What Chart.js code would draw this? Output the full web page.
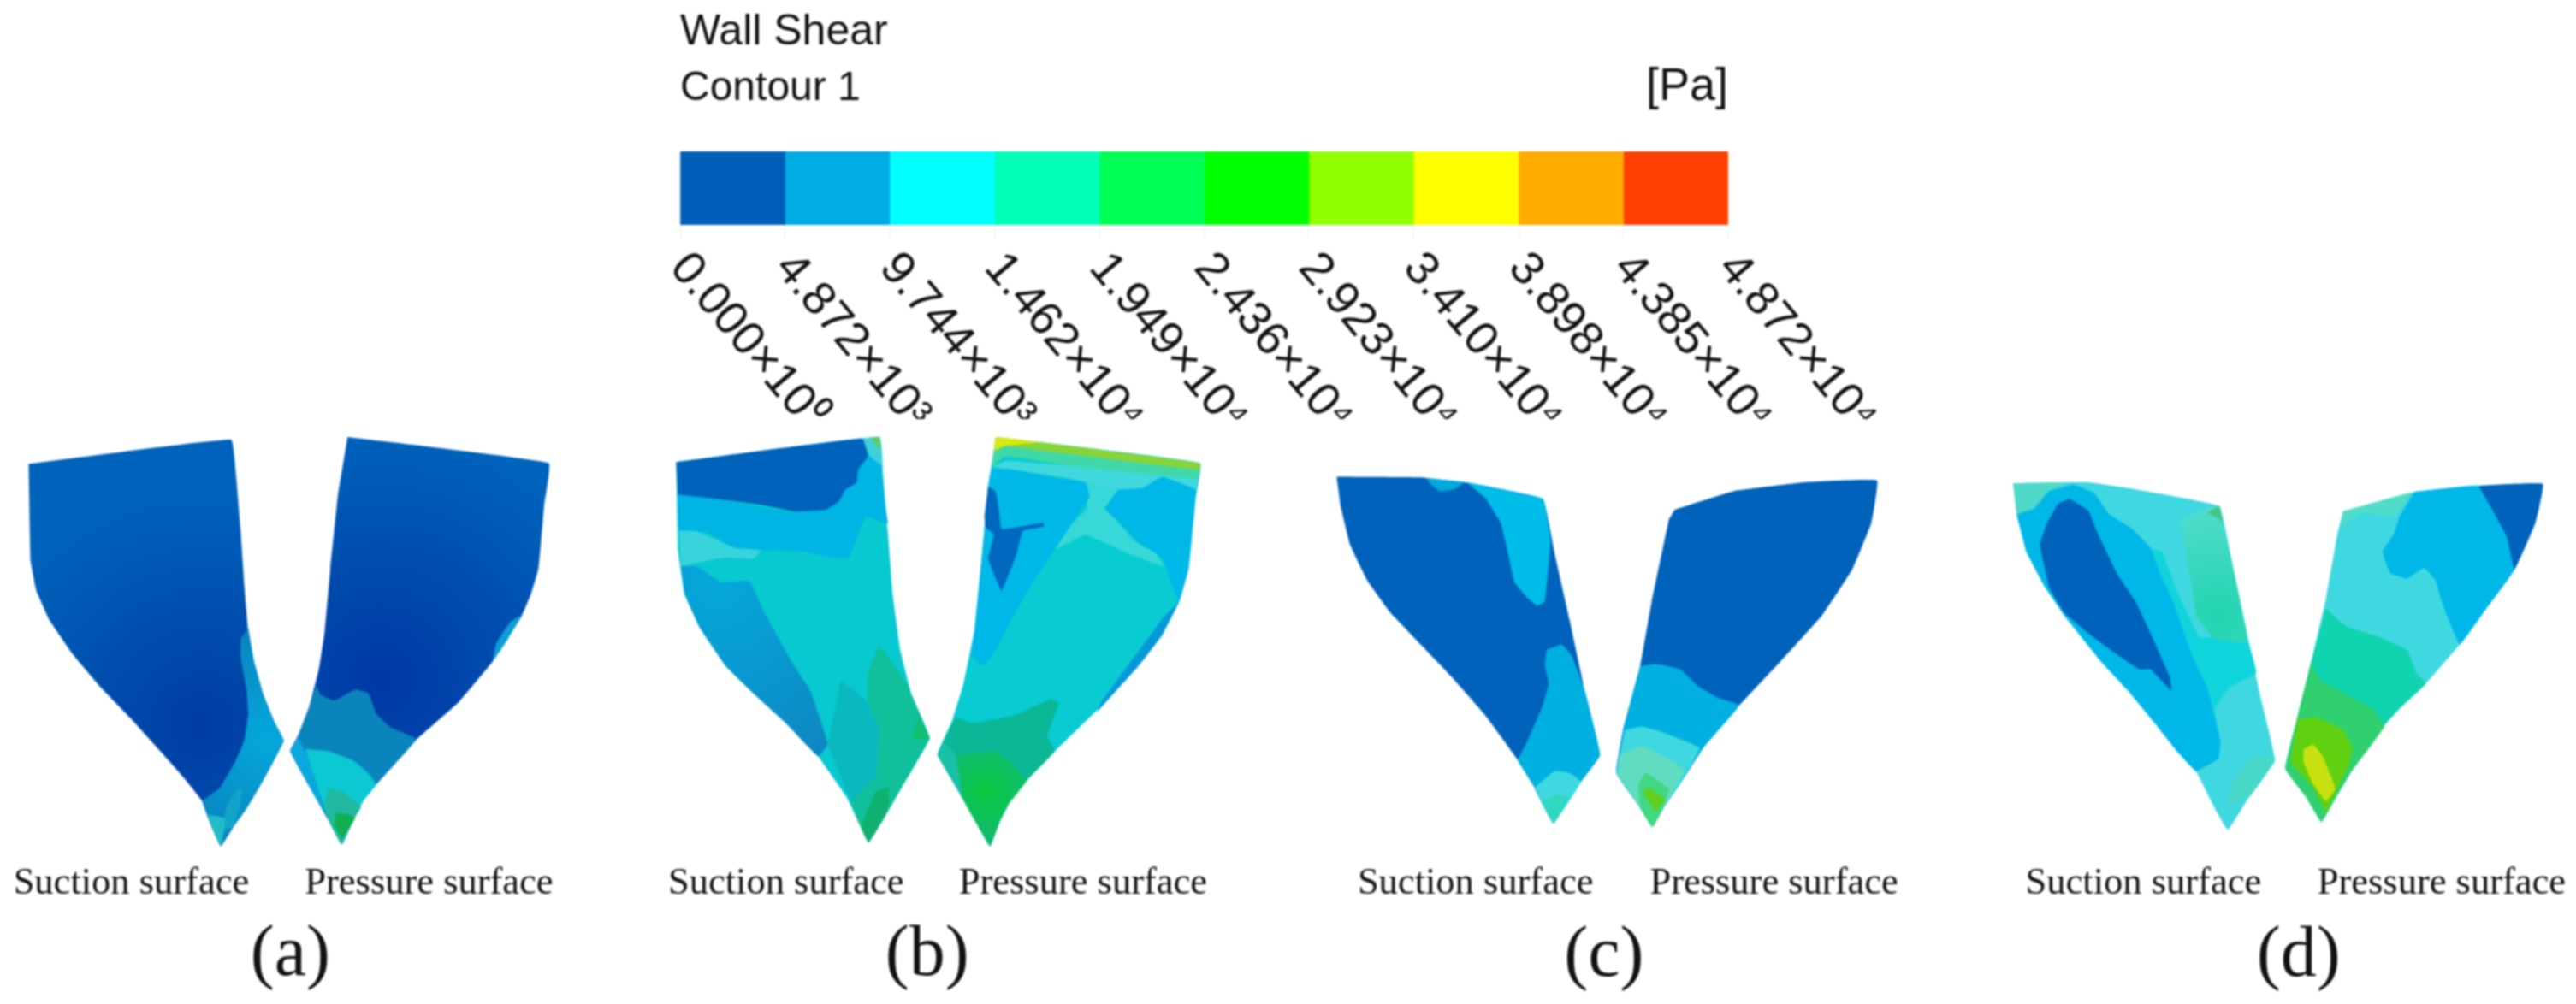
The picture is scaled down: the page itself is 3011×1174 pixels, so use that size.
<!DOCTYPE html>
<html>
<head>
<meta charset="utf-8">
<title>Wall shear contours</title>
<script src="https://cdn.jsdelivr.net/npm/chart.js@4/dist/chart.umd.min.js"></script>
<style>
  html, body { margin: 0; background: #fff; }
  #page { position: relative; width: 3011px; height: 1174px; overflow: hidden; }
  canvas { position: absolute; filter: blur(1px); }
</style>
</head>
<body>
<div id="page"></div>
<script>
// colour bar
const tickValues = [0, 4872, 9744, 14620, 19490, 24360, 29230, 34100, 38980, 43850, 48720];
const tickLabels = ['0.000×10⁰', '4.872×10³', '9.744×10³', '1.462×10⁴', '1.949×10⁴', '2.436×10⁴', '2.923×10⁴', '3.410×10⁴', '3.898×10⁴', '4.385×10⁴', '4.872×10⁴'];
const barColors = ['#005eb8', '#00ace4', '#00ffff', '#00ffb8', '#00ff55', '#00ff00', '#90ff00', '#ffff00', '#ffab00', '#ff4000'];

// contour outlines, [x, y] in each panel's own 0-1568 axes
// panel a
const aSuction = [[75,120],[605,55],[618,150],[630,300],[640,450],[650,570],[665,650],[690,740],[720,815],[743,862],[715,920],[680,985],[645,1045],[610,1095],[578,1145],[555,1095],[530,1025],[480,960],[415,885],[340,800],[260,715],[190,630],[130,540],[95,460],[80,380],[77,250]];
const aSuctionEdge = [[650,560],[630,590],[630,640],[645,720],[650,790],[640,860],[615,920],[575,990],[530,1025],[555,1095],[578,1145],[610,1095],[645,1045],[680,985],[715,920],[743,862],[720,815],[690,740],[665,650]];
const aSuctionBlob = [[635,990],[615,1000],[590,1050],[585,1100],[610,1095],[625,1050]];
const aSuctionTip = [[545,1060],[590,1070],[585,1115],[578,1145],[555,1095]];
const aPressure = [[910,48],[1437,118],[1425,230],[1410,400],[1390,470],[1365,530],[1290,650],[1200,760],[1090,860],[985,980],[950,1025],[925,1075],[895,1140],[860,1075],[810,985],[760,890],[780,850],[810,770],[835,670],[850,570],[865,400],[885,200]];
const aPressureSliver = [[1365,525],[1335,545],[1300,600],[1290,650],[1330,590]];
const aPressureLow = [[828,715],[840,740],[875,755],[930,725],[965,735],[985,790],[1020,825],[1090,858],[985,980],[950,1025],[925,1075],[895,1140],[860,1075],[810,985],[760,890],[780,850],[810,770]];
const aPressureLeft = [[780,855],[760,890],[810,985],[850,1055],[820,930]];
const aPressureTeal = [[800,885],[860,890],[925,915],[965,950],[985,980],[950,1025],[925,1075],[895,1140],[860,1075],[830,980]];
const aPressureMint = [[860,990],[900,1000],[945,1040],[925,1075],[895,1140],[860,1075],[850,1030]];
const aPressureGreen = [[880,1055],[915,1060],[930,1070],[895,1125],[875,1085]];

// panel b
const bSuction = [[68,115],[600,48],[610,150],[622,300],[635,470],[655,620],[685,740],[732,855],[700,915],[660,985],[615,1065],[572,1135],[545,1080],[515,1015],[440,905],[350,810],[270,735],[200,665],[130,560],[90,470],[72,350]];
const bSuctionBand = [[72,203],[180,215],[380,248],[555,60],[600,100],[610,200],[622,280],[565,260],[545,310],[520,370],[480,372],[400,355],[290,352],[220,345],[150,305],[75,300]];
const bSuctionLight = [[75,300],[120,300],[220,345],[290,352],[270,375],[190,372],[80,395]];
const bSuctionCorner = [[555,52],[600,48],[607,125],[575,100]];
const bSuctionCornerGreen = [[578,50],[600,48],[603,85]];
const bSuctionDark = [[68,115],[555,52],[570,100],[545,135],[540,170],[510,190],[495,220],[460,243],[380,248],[290,230],[180,215],[72,203]];
const bSuctionLow = [[80,395],[120,395],[185,437],[260,435],[300,520],[370,650],[420,730],[465,870],[440,905],[350,810],[270,735],[200,665],[130,560],[90,470]];
const bSuctionMid = [[465,870],[528,1025],[590,960],[600,830],[570,760],[500,700]];
const bSuctionGreen = [[600,605],[660,690],[685,740],[732,855],[700,915],[660,985],[615,1065],[572,1135],[545,1080],[528,1025],[590,960],[600,830],[570,760],[570,680]];
const bSuctionDeep = [[700,800],[732,855],[685,860]];
const bSuctionBlob = [[625,985],[590,1000],[565,1060],[552,1095],[572,1135],[615,1065],[625,1030]];
const bPressure = [[905,48],[1440,118],[1425,230],[1410,400],[1385,490],[1340,580],[1280,660],[1180,770],[1060,890],[985,970],[940,1030],[915,1080],[890,1145],[855,1085],[800,985],[752,900],[790,810],[820,710],[850,560],[870,350],[885,180]];
const bPressureTop = [[905,48],[1100,72],[1440,118],[1434,160],[1100,125],[930,100],[893,130]];
const bPressureRim = [[905,48],[1100,72],[1440,118],[1437,136],[1100,94],[930,72],[900,85]];
const bPressureYellow = [[905,48],[1020,62],[930,72],[900,85]];
const bPressureLightTop = [[893,128],[935,112],[1100,125],[1434,152],[1428,190],[1340,155],[1290,185],[1225,190],[1100,160],[950,135]];
const bPressureMiddle = [[1140,170],[1225,190],[1190,240],[1225,275],[1270,330],[1320,355],[1345,395],[1250,360],[1140,310],[1060,350],[1105,280],[1145,240]];
const bPressureLeft = [[885,180],[893,135],[950,135],[1050,155],[1140,170],[1150,210],[1100,285],[1060,350],[1000,440],[950,530],[915,600],[885,650],[865,660],[840,630],[850,560],[870,350]];
const bPressureDark = [[885,180],[905,195],[915,260],[920,295],[1030,278],[1030,288],[975,300],[960,360],[920,460],[885,375],[900,310],[878,290],[875,260]];
const bPressureRight = [[1190,240],[1225,190],[1290,185],[1340,155],[1428,190],[1420,300],[1410,400],[1385,490],[1365,440],[1340,370],[1290,340],[1225,275]];
const bPressureSliver = [[1385,490],[1340,580],[1280,660],[1170,785],[1180,760],[1215,710],[1280,620],[1345,530]];
const bPressureLower = [[770,860],[800,800],[840,815],[950,795],[1050,750],[1070,760],[1040,850],[1060,890],[985,970],[940,1030],[915,1080],[890,1145],[855,1085],[800,985],[752,900]];
const bPressureStrip = [[752,900],[770,870],[800,900],[820,1020],[800,985]];
const bPressureGreen = [[800,900],[900,890],[950,925],[985,970],[940,1030],[915,1080],[890,1145],[855,1085],[820,1020]];

// panel c
const cSuction = [[50,90],[270,92],[400,108],[590,152],[620,300],[660,490],[700,690],[740,870],[690,945],[618,1062],[590,1010],[565,955],[525,885],[440,760],[350,650],[270,560],[190,470],[130,380],[85,280],[60,170]];
const cSuctionTop = [[390,105],[590,152],[610,270],[595,440],[575,452],[550,430],[515,385],[500,310],[480,220],[440,150]];
const cSuctionNotch = [[285,95],[385,105],[360,125],[320,130],[300,115]];
const cSuctionLow = [[600,575],[640,560],[665,590],[700,690],[740,870],[690,945],[618,1062],[590,1010],[565,955],[525,885],[550,830],[590,730],[605,670],[595,620]];
const cSuctionLight = [[570,960],[620,915],[660,920],[690,945],[618,1062],[590,1010]];
const cSuctionTip = [[585,1000],[630,980],[660,990],[618,1062]];
const cPressure = [[935,182],[1090,130],[1280,105],[1465,100],[1450,220],[1400,350],[1320,480],[1210,610],[1105,730],[1010,850],[950,950],[905,1020],[877,1072],[840,1010],[782,920],[800,800],[845,620],[875,440],[920,210]];
const cPressureLow = [[845,620],[890,615],[950,630],[1000,680],[1050,710],[1105,730],[1010,850],[950,950],[905,1020],[877,1072],[840,1010],[782,920],[800,800]];
const cPressureLight = [[805,800],[850,790],[900,805],[1000,850],[950,950],[905,1020],[877,1072],[840,1010],[782,920]];
const cPressureMint = [[790,870],[850,845],[920,880],[960,915],[905,1020],[877,1072],[840,1010],[785,925]];
const cPressureGreen = [[840,950],[860,920],[920,965],[905,1020],[877,1072],[845,1020]];
const cPressureLime = [[850,970],[875,965],[910,995],[885,1030]];

// panel d
const dSuction = [[75,108],[270,105],[400,125],[622,172],[650,300],[690,500],[730,700],[770,885],[720,955],[645,1080],[610,1020],[560,915],[510,860],[450,780],[380,690],[310,610],[215,485],[160,400],[110,300],[85,200]];
const dSuctionCorner = [[75,108],[210,108],[150,170],[100,190],[85,200]];
const dSuctionBand = [[85,195],[130,180],[170,130],[235,112],[290,135],[330,195],[390,235],[440,290],[465,360],[500,440],[550,590],[590,680],[625,830],[620,880],[560,915],[510,860],[450,780],[380,690],[310,610],[215,485],[160,400],[110,300]];
const dSuctionDark = [[145,280],[165,220],[195,165],[225,152],[275,185],[300,250],[350,360],[400,440],[440,530],[490,650],[495,690],[440,630],[410,630],[340,580],[270,525],[210,470],[170,400]];
const dSuctionTeal = [[440,290],[470,300],[510,410],[570,540],[690,530],[720,640],[650,680],[610,740],[625,830],[590,680],[550,590],[500,440],[465,360]];
const dSuctionMint = [[520,210],[600,175],[622,172],[650,300],[690,500],[695,555],[610,545],[560,480],[550,400],[530,300]];
const dSuctionSpot = [[590,190],[622,172],[630,215]];
const dSuctionLow = [[660,940],[720,870],[770,885],[700,990],[640,1010]];
const dPressure = [[950,187],[1140,132],[1310,115],[1480,110],[1460,220],[1405,350],[1330,460],[1260,560],[1170,670],[1100,740],[1040,810],[970,920],[920,1010],[893,1058],[850,985],[797,908],[830,760],[870,590],[905,430],[935,250]];
const dPressureTop = [[950,187],[1130,135],[1085,200],[1000,190],[945,230]];
const dPressureBlue = [[1140,132],[1310,115],[1350,190],[1385,260],[1405,350],[1330,460],[1260,560],[1215,450],[1195,380],[1165,345],[1120,375],[1075,360],[1055,300],[1085,250],[1100,200]];
const dPressureDark = [[1310,115],[1480,110],[1460,220],[1405,350],[1385,260],[1350,190]];
const dPressureMint = [[905,460],[960,510],[1050,540],[1120,575],[1145,640],[1170,670],[1100,740],[1040,810],[970,920],[920,1010],[893,1058],[850,985],[797,908],[830,760],[870,590]];
const dPressureGreen = [[865,610],[890,660],[960,700],[1030,740],[1060,790],[970,920],[920,1010],[893,1058],[850,985],[797,908],[830,760]];
const dPressureLime = [[830,770],[880,765],[950,800],[975,850],[965,900],[935,965],[905,1030],[870,960],[810,890]];
const dPressureYellow = [[845,855],[870,840],[895,870],[930,965],[905,1000],[870,950],[845,890]];

const page = document.getElementById('page');

function addCanvas(left, top, w, h) {
  const c = document.createElement('canvas');
  c.width = w; c.height = h;
  c.style.left = left + 'px';
  c.style.top = top + 'px';
  page.appendChild(c);
  return c;
}

// soft shading inside a contour band
function radial(cx, cy, r, inner, outer) {
  return ({chart}) => {
    const s = chart.scales;
    if (!chart.chartArea || !s || !s.x) return inner;
    const px = s.x.getPixelForValue(cx), py = s.y.getPixelForValue(cy);
    const g = chart.ctx.createRadialGradient(px, py, 0, px, py, s.x.getPixelForValue(r));
    g.addColorStop(0, inner);
    g.addColorStop(1, outer);
    return g;
  };
}

const panelText = {
  id: 'panelText',
  afterDraw(chart, args, opts) {
    const {ctx, scales} = chart;
    ctx.save();
    ctx.fillStyle = '#111';
    ctx.textBaseline = 'alphabetic';
    ctx.textAlign = 'left';
    ctx.font = '44.5px "Liberation Serif"';
    ctx.fillText('Suction surface', scales.x.getPixelForValue(opts.suctionX), scales.y.getPixelForValue(opts.labelY));
    ctx.fillText('Pressure surface', scales.x.getPixelForValue(opts.pressureX), scales.y.getPixelForValue(opts.labelY));
    ctx.textAlign = 'center';
    ctx.font = '84px "Liberation Serif"';
    ctx.fillText(opts.tag, scales.x.getPixelForValue(opts.tagX), scales.y.getPixelForValue(opts.tagY));
    ctx.restore();
  }
};

function drawPanel(left, top, w, h, layers, text) {
  // first dataset is painted last, so flip to keep the list bottom-to-top
  const datasets = layers.slice().reverse().map(([pts, color]) => ({
    data: pts.map(p => ({x: p[0], y: p[1]})),
    showLine: true,
    fill: 'shape',
    backgroundColor: color,
    borderWidth: 0,
    pointRadius: 0,
    tension: 0.08
  }));
  new Chart(addCanvas(left, top, w, h), {
    type: 'scatter',
    data: {datasets},
    plugins: [panelText],
    options: {
      responsive: false,
      animation: false,
      layout: {padding: 0},
      plugins: {legend: {display: false}, tooltip: {enabled: false}, panelText: text},
      scales: {
        x: {display: false, min: 0, max: 1568},
        y: {display: false, min: 0, max: 1568, reverse: true}
      }
    }
  });
}

drawPanel(0, 490, 700, 684, [
  [aSuction, radial(530, 820, 620, '#003ca2', '#0063bb')],
  [aSuctionEdge, radial(700, 860, 320, '#04a8dc', '#0a80bb')],
  [aSuctionBlob, '#12a4c8'],
  [aSuctionTip, '#20bcc8'],
  [aPressure, radial(1000, 700, 660, '#0038a4', '#0063bb')],
  [aPressureSliver, '#0a9fd6'],
  [aPressureLow, '#0a85bb'],
  [aPressureLeft, '#0aa8dc'],
  [aPressureTeal, '#0cc8d2'],
  [aPressureMint, '#20b8a0'],
  [aPressureGreen, '#10b050']
], {suctionX: 35, pressureX: 798, labelY: 1272, tag: '(a)', tagX: 760, tagY: 1490});

drawPanel(760, 490, 700, 684, [
  [bSuction, '#08c8d0'],
  [bSuctionBand, '#00b4e4'],
  [bSuctionLight, '#38d4dc'],
  [bSuctionCorner, '#40d0d8'],
  [bSuctionCornerGreen, '#60c860'],
  [bSuctionDark, '#0062ba'],
  [bSuctionLow, radial(180, 440, 560, '#05a8dc', '#0f84bf')],
  [bSuctionMid, '#0ab8c0'],
  [bSuctionGreen, '#10c09a'],
  [bSuctionDeep, '#10c070'],
  [bSuctionBlob, '#10b070'],
  [bPressure, '#08ccd2'],
  [bPressureLightTop, '#40d8dc'],
  [bPressureTop, '#40d8a8'],
  [bPressureRim, '#88d438'],
  [bPressureYellow, '#d8e810'],
  [bPressureMiddle, '#38d8d8'],
  [bPressureLeft, '#00b8e8'],
  [bPressureDark, '#0068bf'],
  [bPressureRight, '#00b8e8'],
  [bPressureSliver, '#0598d8'],
  [bPressureLower, '#0ab898'],
  [bPressureStrip, '#18c0a8'],
  [bPressureGreen, radial(880, 1000, 150, '#08c840', '#12b878')]
], {suctionX: 47, pressureX: 808, labelY: 1272, tag: '(b)', tagX: 725, tagY: 1490});

drawPanel(1540, 520, 700, 654, [
  [cSuction, '#0062ba'],
  [cSuctionTop, '#00bce8'],
  [cSuctionNotch, '#00a8dc'],
  [cSuctionLow, '#00b0e0'],
  [cSuctionLight, '#40d8e0'],
  [cSuctionTip, '#30d8c0'],
  [cPressure, '#0062ba'],
  [cPressureLow, '#00b0e0'],
  [cPressureLight, '#40d8e0'],
  [cPressureMint, '#60dcc0'],
  [cPressureGreen, '#40d880'],
  [cPressureLime, '#60d020']
], {suctionX: 105, pressureX: 870, labelY: 1258, tag: '(c)', tagX: 750, tagY: 1490});

drawPanel(2320, 520, 691, 654, [
  [dSuction, '#40d8e0'],
  [dSuctionCorner, '#50d8c8'],
  [dSuctionBand, '#00b8e8'],
  [dSuctionDark, '#0062ba'],
  [dSuctionTeal, '#10d4dc'],
  [dSuctionMint, radial(620, 480, 320, '#20d4b0', '#58dcd0')],
  [dSuctionSpot, '#40c888'],
  [dSuctionLow, '#48d8c8'],
  [dPressure, '#40d8e0'],
  [dPressureTop, '#50dcc8'],
  [dPressureBlue, '#00b8e8'],
  [dPressureDark, '#0062ba'],
  [dPressureMint, '#10d4b0'],
  [dPressureGreen, '#30d070'],
  [dPressureLime, '#60d010'],
  [dPressureYellow, '#c8e010']
], {suctionX: 108, pressureX: 882, labelY: 1258, tag: '(d)', tagX: 832, tagY: 1490});

// legend: the bar is a floating stacked bar on a value axis, ticks drawn slanted
const legendText = {
  id: 'legendText',
  afterDraw(chart) {
    const {ctx, scales} = chart;
    const x0 = scales.x.getPixelForValue(0);
    ctx.save();
    ctx.fillStyle = '#111';
    ctx.textAlign = 'left';
    ctx.textBaseline = 'alphabetic';
    ctx.font = '50px "Liberation Sans"';
    ctx.fillText('Wall Shear', x0, 52);
    ctx.font = '48px "Liberation Sans"';
    ctx.fillText('Contour 1', x0, 117);
    ctx.textAlign = 'right';
    ctx.font = '54px "Liberation Sans"';
    ctx.fillText('[Pa]', scales.x.getPixelForValue(48720), 117);
    ctx.textAlign = 'left';
    ctx.textBaseline = 'middle';
    ctx.font = '55px "Liberation Sans"';
    tickValues.forEach((v, i) => {
      ctx.save();
      ctx.translate(scales.x.getPixelForValue(v) - 2, 304);
      ctx.rotate(50 * Math.PI / 180);
      ctx.fillText(tickLabels[i], 0, 0);
      ctx.restore();
    });
    ctx.restore();
  }
};

new Chart(addCanvas(760, 0, 1480, 490), {
  type: 'bar',
  data: {
    labels: ['Wall Shear'],
    datasets: barColors.map((color, i) => ({
      data: [[tickValues[i], tickValues[i + 1]]],
      backgroundColor: color,
      borderWidth: 0,
      grouped: false,
      barPercentage: 1,
      categoryPercentage: 1
    }))
  },
  plugins: [legendText],
  options: {
    indexAxis: 'y',
    responsive: false,
    animation: false,
    layout: {padding: {left: 35, right: 220, top: 177, bottom: 210}},
    plugins: {legend: {display: false}, tooltip: {enabled: false}},
    scales: {
      x: {
        min: 0,
        max: 48720,
        afterBuildTicks(axis) { axis.ticks = tickValues.map(v => ({value: v})); },
        border: {display: false},
        grid: {drawOnChartArea: false, tickLength: 17, tickColor: '#eeeeee', lineWidth: 1},
        ticks: {display: false}
      },
      y: {display: false}
    }
  }
});
</script>
</body>
</html>
